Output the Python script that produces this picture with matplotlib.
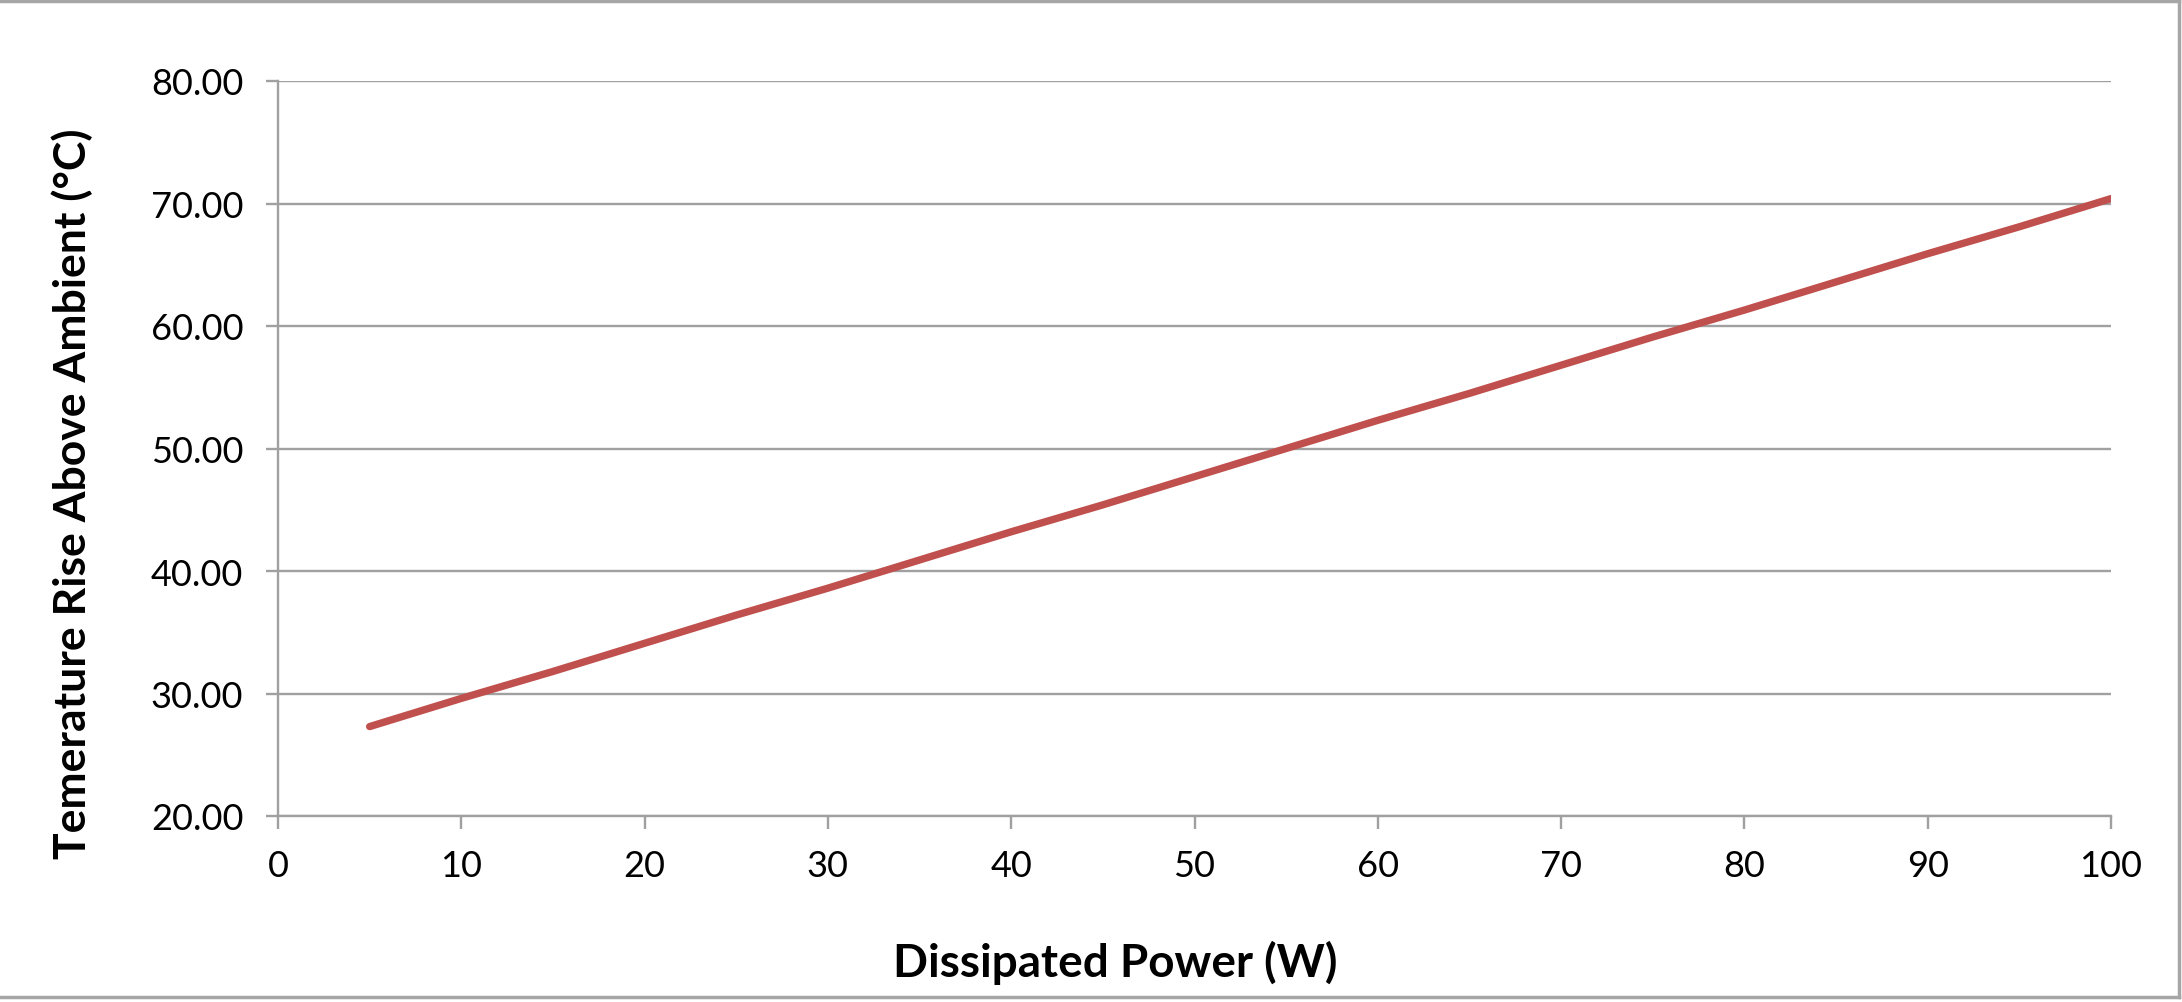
"""
Temperature rise vs dissipated power, Excel-style line chart
"""

import matplotlib
matplotlib.use("Agg")
import matplotlib.pyplot as plt
from matplotlib.lines import Line2D
from matplotlib.ticker import FormatStrFormatter

# Data
power_w = [5, 10, 15, 20, 25, 30, 35, 40, 45, 50,
           55, 60, 65, 70, 75, 80, 85, 90, 95, 100]
temp_rise_c = [27.3, 29.6, 31.8, 34.1, 36.4, 38.6, 40.9, 43.2, 45.4, 47.7,
               50.0, 52.3, 54.5, 56.8, 59.1, 61.3, 63.6, 65.9, 68.1, 70.4]
x_ticks = [0, 10, 20, 30, 40, 50, 60, 70, 80, 90, 100]
y_ticks = [20, 30, 40, 50, 60, 70, 80]

# Style
plt.rcParams['font.family'] = ['Lato', 'DejaVu Sans']
grey = '#A0A0A0'
red = '#C0504D'

W, H = 2182, 1003
fig = plt.figure(figsize=(W / 100, H / 100), dpi=100)
ax = fig.add_axes([278 / W, 1 - 817 / H, (2111 - 278) / W, (817 - 82) / H])

ax.plot(power_w, temp_rise_c, color=red, linewidth=5.3, solid_capstyle='round')

ax.set_xlim(0, 100)
ax.set_ylim(20, 80)
ax.set_xticks(x_ticks)
ax.set_yticks(y_ticks)
ax.yaxis.set_major_formatter(FormatStrFormatter('%.2f'))
ax.grid(axis='y', color=grey, linewidth=1.7)
ax.set_axisbelow(True)

for side in ['top', 'right']:
    ax.spines[side].set_visible(False)
for side in ['left', 'bottom']:
    ax.spines[side].set_color(grey)
    ax.spines[side].set_linewidth(1.7)

ax.tick_params(axis='both', colors=grey, labelcolor='black', labelsize=26,
               length=9, width=1.7, direction='out')
ax.tick_params(axis='x', pad=15)
ax.tick_params(axis='y', pad=16)

# Axis titles placed like the reference
fig.text(1115 / W, 1 - 963 / H, 'Dissipated Power (W)', ha='center',
         va='center', fontsize=33, fontweight='bold')
fig.text(72 / W, 1 - 494 / H, 'Temerature Rise Above Ambient (°C)',
         ha='center', va='center', rotation=90, fontsize=32, fontweight='bold')

# Chart frame lines (top, right, bottom)
frame = dict(color='#A6A6A6', linewidth=2.5, transform=fig.transFigure)
fig.add_artist(Line2D([0, 2179 / W], [1 - 2 / H, 1 - 2 / H], **frame))
fig.add_artist(Line2D([0, 2179 / W], [1 - 998 / H, 1 - 998 / H], **frame))
fig.add_artist(Line2D([2179 / W, 2179 / W], [1 - 2 / H, 1 - 998 / H], **frame))

fig.savefig('out.png', dpi=100)
